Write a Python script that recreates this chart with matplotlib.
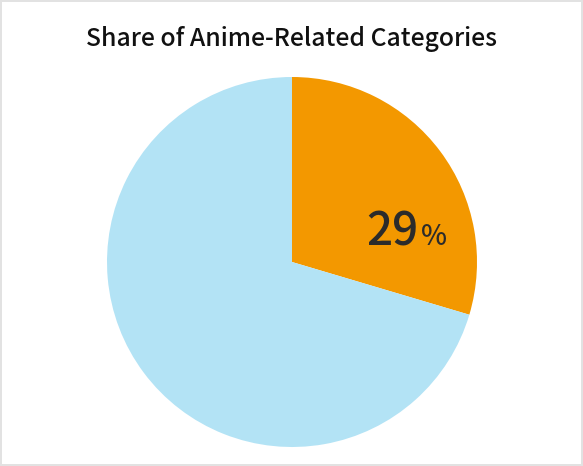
import matplotlib.pyplot as plt

# slice data
categories = ['Anime-Related', 'Other']
shares = [29.6, 70.4]
label_text = '29'
colours = ['#F39800', '#B3E3F5']

plt.rcParams['font.family'] = ['Noto Sans CJK JP', 'DejaVu Sans']

fig = plt.figure(figsize=(5.83, 4.66), dpi=100)
fig.patch.set_facecolor('white')
fig.patch.set_edgecolor('#e2e2e2')
fig.patch.set_linewidth(1.5)

ax = fig.add_axes([107/583, 19/466, 370/583, 370/466])
ax.pie(shares, colors=colours, startangle=90, counterclock=False,
       wedgeprops=dict(linewidth=0))
ax.set_aspect('equal')
ax.set_xlim(-1, 1)
ax.set_ylim(-1, 1)

# label for the first slice
ax.text(0.685, 0.09, label_text, ha='right', va='baseline',
        fontsize=33, fontweight='medium', color='#2b2b2b')
ax.text(0.70, 0.09, '%', ha='left', va='baseline',
        fontsize=20, fontweight='medium', color='#2b2b2b')

fig.text(292/583, 1 - 39/466, 'Share of Anime-Related Categories',
         ha='center', va='center', fontsize=17.8, fontweight='medium',
         color='#111111')

plt.savefig('out.png', dpi=100, facecolor=fig.get_facecolor(),
            edgecolor=fig.get_edgecolor())
